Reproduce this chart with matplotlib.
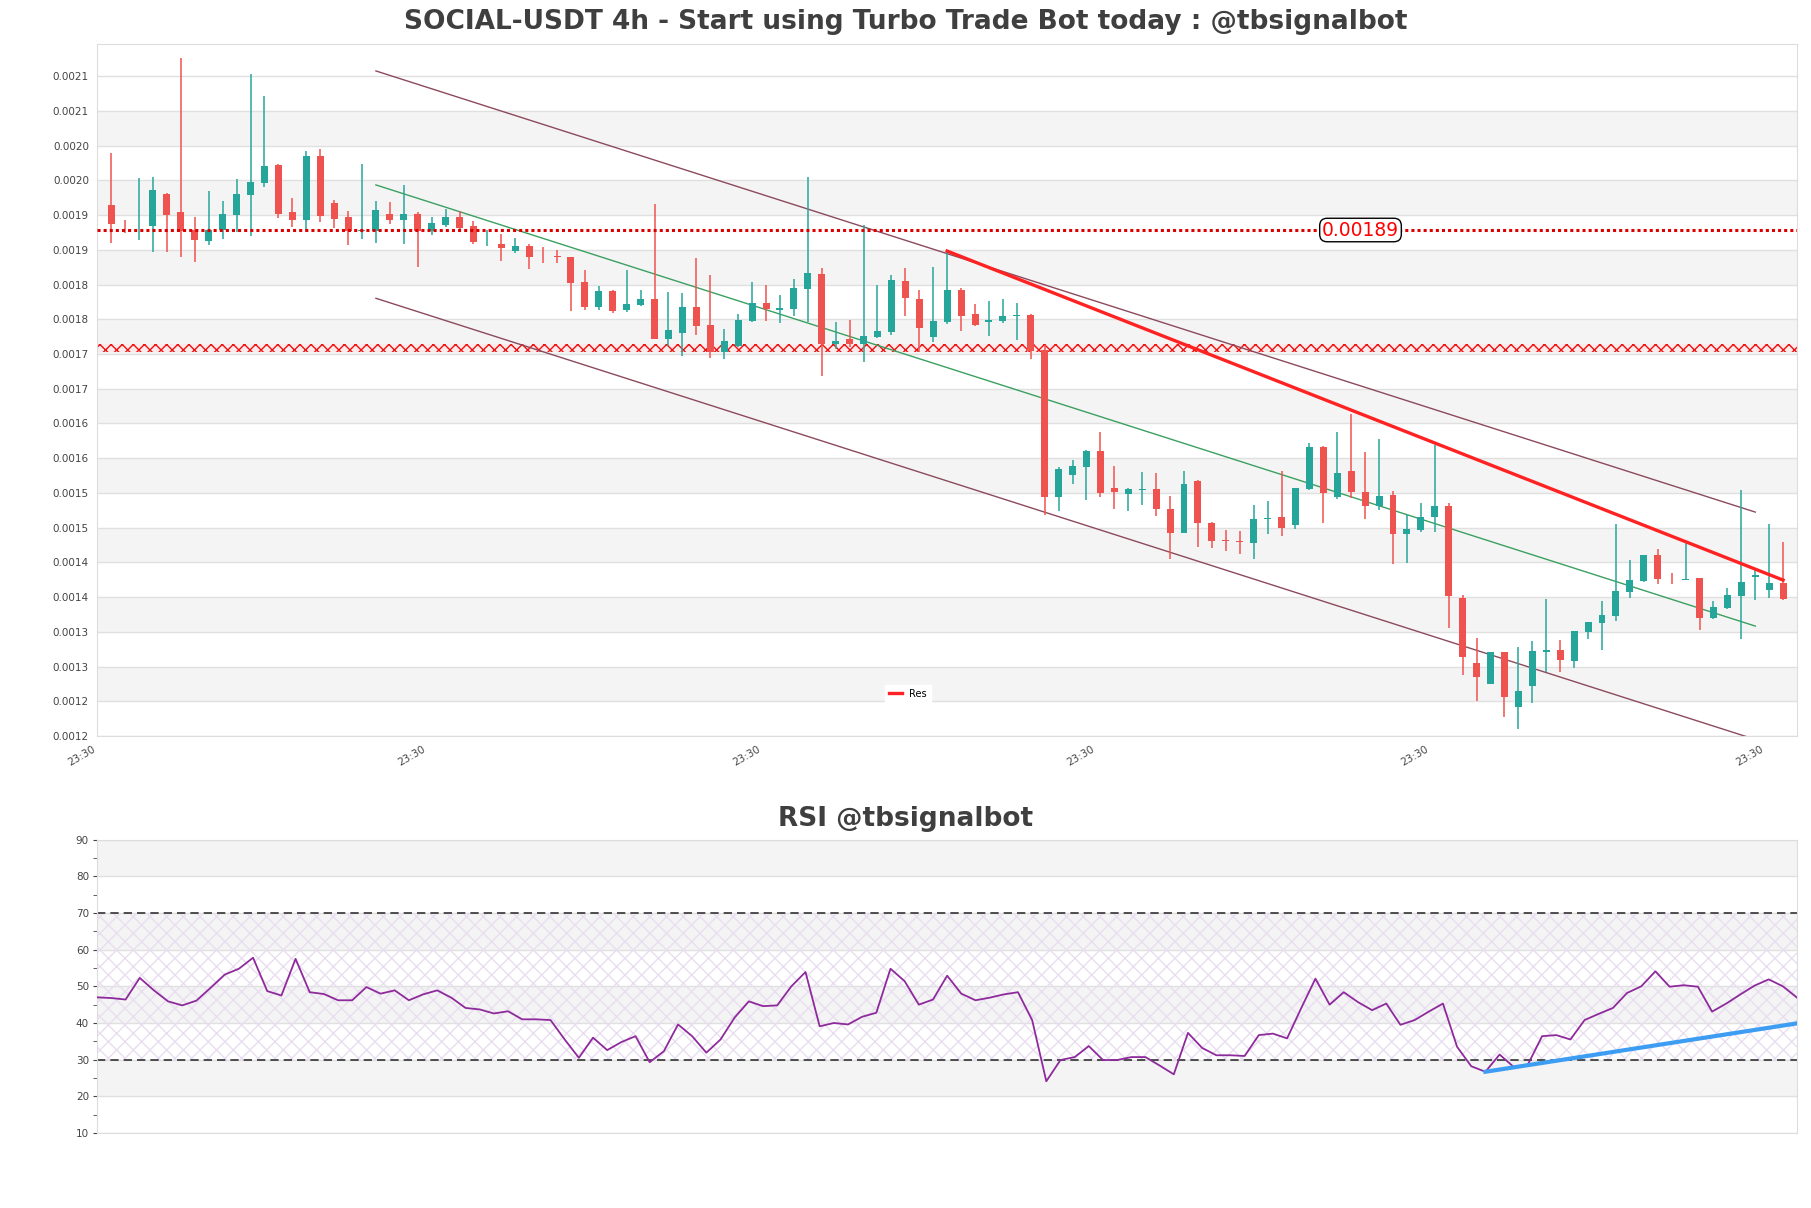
import matplotlib
matplotlib.use("Agg")
import matplotlib.pyplot as plt
import numpy as np
from matplotlib.ticker import FormatStrFormatter, MultipleLocator

# ---- candle data (4h) ----
opens = [
    0.0019258, 0.0018990, 0.0018952, 0.0018961, 0.0019417, 0.0019158, 0.0018899, 0.0018745, 0.0018894, 0.0019119,
    0.0019407, 0.0019580, 0.0019834, 0.0019158, 0.0019047, 0.0019964, 0.0019287, 0.0019086, 0.0018890, 0.0018889,
    0.0019129, 0.0019048, 0.0019130, 0.0018890, 0.0018971, 0.0019086, 0.0018957, 0.0018710, 0.0018693, 0.0018597,
    0.0018669, 0.0018526, 0.0018520, 0.0018510, 0.0018150, 0.0017791, 0.0018021, 0.0017747, 0.0017819, 0.0017906,
    0.0017335, 0.0017421, 0.0017791, 0.0017531, 0.0017138, 0.0017234, 0.0017589, 0.0017848, 0.0017752, 0.0017767,
    0.0018055, 0.0018266, 0.0017263, 0.0017335, 0.0017263, 0.0017359, 0.0017435, 0.0018165, 0.0017906, 0.0017354,
    0.0017579, 0.0018035, 0.0017694, 0.0017570, 0.0017594, 0.0017661, 0.0017680, 0.0017166, 0.0015060, 0.0015367,
    0.0015492, 0.0015717, 0.0015180, 0.0015093, 0.0015160, 0.0015165, 0.0014877, 0.0014541, 0.0015290, 0.0014685,
    0.0014430, 0.0014415, 0.0014397, 0.0014735, 0.0014762, 0.0014651, 0.0015165, 0.0015774, 0.0015059, 0.0015429,
    0.0015127, 0.0014925, 0.0015078, 0.0014527, 0.0014584, 0.0014771, 0.0014925, 0.0013600, 0.0012665, 0.0012367,
    0.0012818, 0.0012026, 0.0012338, 0.0012830, 0.0012847, 0.0012699, 0.0013116, 0.0013246, 0.0013342, 0.0013692,
    0.0013851, 0.0014220, 0.0013897, 0.0013865, 0.0013889, 0.0013318, 0.0013457, 0.0013635, 0.0013910, 0.0013711,
    0.0013812]
highs = [
    0.0020002, 0.0019042, 0.0019652, 0.0019662, 0.0019430, 0.0021370, 0.0019090, 0.0019460, 0.0019316, 0.0019633,
    0.0021144, 0.0020828, 0.0019849, 0.0019364, 0.0020036, 0.0020065, 0.0019330, 0.0019167, 0.0019849, 0.0019316,
    0.0019297, 0.0019547, 0.0019154, 0.0019082, 0.0019197, 0.0019173, 0.0019024, 0.0018899, 0.0018842, 0.0018784,
    0.0018698, 0.0018654, 0.0018611, 0.0018515, 0.0018323, 0.0018093, 0.0018035, 0.0018323, 0.0018035, 0.0019273,
    0.0018006, 0.0017990, 0.0018496, 0.0018251, 0.0017474, 0.0017685, 0.0018151, 0.0018107, 0.0017963, 0.0018194,
    0.0019662, 0.0018352, 0.0017570, 0.0017608, 0.0018971, 0.0018107, 0.0018251, 0.0018347, 0.0018035, 0.0018367,
    0.0018606, 0.0018064, 0.0017833, 0.0017877, 0.0017906, 0.0017848, 0.0017685, 0.0017243, 0.0015482, 0.0015588,
    0.0015732, 0.0015991, 0.0015501, 0.0015180, 0.0015415, 0.0015400, 0.0015065, 0.0015424, 0.0015300, 0.0014690,
    0.0014580, 0.0014570, 0.0014935, 0.0015000, 0.0015429, 0.0015190, 0.0015832, 0.0015789, 0.0015990, 0.0016254,
    0.0015702, 0.0015890, 0.0015146, 0.0014791, 0.0014968, 0.0015798, 0.0014963, 0.0013639, 0.0013020, 0.0012820,
    0.0012825, 0.0012899, 0.0012986, 0.0013586, 0.0012994, 0.0013130, 0.0013255, 0.0013558, 0.0014667, 0.0014148,
    0.0014225, 0.0014307, 0.0013956, 0.0014412, 0.0013895, 0.0013558, 0.0013745, 0.0015156, 0.0014014, 0.0014667,
    0.0014407]
lows = [
    0.0018716, 0.0018850, 0.0018755, 0.0018587, 0.0018587, 0.0018515, 0.0018433, 0.0018683, 0.0018774, 0.0018875,
    0.0018817, 0.0019513, 0.0019076, 0.0018947, 0.0018884, 0.0019014, 0.0018923, 0.0018687, 0.0018774, 0.0018716,
    0.0018990, 0.0018693, 0.0018371, 0.0018822, 0.0018938, 0.0018909, 0.0018693, 0.0018674, 0.0018453, 0.0018573,
    0.0018343, 0.0018419, 0.0018419, 0.0017738, 0.0017743, 0.0017747, 0.0017709, 0.0017723, 0.0017805, 0.0017330,
    0.0017234, 0.0017092, 0.0017392, 0.0017056, 0.0017037, 0.0017220, 0.0017570, 0.0017589, 0.0017565, 0.0017656,
    0.0017580, 0.0016792, 0.0017191, 0.0017220, 0.0016994, 0.0017340, 0.0017392, 0.0017666, 0.0017138, 0.0017282,
    0.0017551, 0.0017450, 0.0017520, 0.0017378, 0.0017565, 0.0017315, 0.0017046, 0.0014796, 0.0014858, 0.0015237,
    0.0015012, 0.0015060, 0.0014887, 0.0014858, 0.0014935, 0.0014786, 0.0014157, 0.0014532, 0.0014340, 0.0014325,
    0.0014282, 0.0014239, 0.0014167, 0.0014529, 0.0014498, 0.0014599, 0.0015160, 0.0014685, 0.0015030, 0.0015035,
    0.0014738, 0.0014863, 0.0014085, 0.0014104, 0.0014555, 0.0014555, 0.0013168, 0.0012492, 0.0012122, 0.0012360,
    0.0011892, 0.0011710, 0.0012084, 0.0012535, 0.0012540, 0.0012598, 0.0013016, 0.0012857, 0.0013275, 0.0013606,
    0.0013836, 0.0013807, 0.0013807, 0.0013860, 0.0013140, 0.0013294, 0.0013443, 0.0013016, 0.0013572, 0.0013606,
    0.0013572]
closes = [
    0.0018990, 0.0018985, 0.0018960, 0.0019474, 0.0019119, 0.0018889, 0.0018759, 0.0018899, 0.0019129, 0.0019417,
    0.0019590, 0.0019820, 0.0019134, 0.0019047, 0.0019964, 0.0019105, 0.0019062, 0.0018889, 0.0018905, 0.0019186,
    0.0019047, 0.0019130, 0.0018890, 0.0019000, 0.0019086, 0.0018933, 0.0018726, 0.0018714, 0.0018640, 0.0018669,
    0.0018510, 0.0018522, 0.0018514, 0.0018141, 0.0017791, 0.0018021, 0.0017733, 0.0017834, 0.0017906, 0.0017335,
    0.0017455, 0.0017791, 0.0017522, 0.0017138, 0.0017301, 0.0017604, 0.0017848, 0.0017757, 0.0017776, 0.0018064,
    0.0018280, 0.0017263, 0.0017301, 0.0017263, 0.0017373, 0.0017445, 0.0018179, 0.0017925, 0.0017488, 0.0017594,
    0.0018035, 0.0017666, 0.0017531, 0.0017603, 0.0017661, 0.0017680, 0.0017162, 0.0015060, 0.0015458, 0.0015496,
    0.0015717, 0.0015117, 0.0015132, 0.0015165, 0.0015165, 0.0014877, 0.0014541, 0.0015237, 0.0014685, 0.0014426,
    0.0014426, 0.0014411, 0.0014733, 0.0014748, 0.0014613, 0.0015184, 0.0015774, 0.0015117, 0.0015400, 0.0015131,
    0.0014930, 0.0015064, 0.0014527, 0.0014589, 0.0014762, 0.0014925, 0.0013634, 0.0012756, 0.0012468, 0.0012818,
    0.0012180, 0.0012261, 0.0012833, 0.0012847, 0.0012713, 0.0013126, 0.0013251, 0.0013356, 0.0013702, 0.0013860,
    0.0014220, 0.0013875, 0.0013890, 0.0013875, 0.0013318, 0.0013472, 0.0013644, 0.0013827, 0.0013927, 0.0013812,
    0.0013582]

# ---- RSI ----
rsi = [
    47.0, 46.8, 46.4, 52.3, 48.9, 45.9, 44.8, 46.1, 49.6, 53.2,
    54.8, 57.8, 48.7, 47.5, 57.5, 48.4, 47.9, 46.2, 46.2, 49.8,
    48.0, 48.9, 46.2, 47.8, 48.9, 46.9, 44.1, 43.7, 42.6, 43.2,
    41.0, 41.0, 40.8, 35.5, 30.5, 36.0, 32.6, 34.8, 36.4, 29.3,
    32.3, 39.6, 36.4, 31.9, 35.5, 41.5, 45.9, 44.6, 44.8, 50.0,
    53.9, 39.1, 40.0, 39.6, 41.7, 42.8, 54.8, 51.4, 45.0, 46.4,
    52.9, 48.0, 46.2, 46.9, 47.8, 48.4, 40.8, 24.1, 29.9, 30.7,
    33.7, 29.9, 29.9, 30.7, 30.7, 28.4, 26.0, 37.3, 33.2, 31.2,
    31.2, 31.0, 36.7, 37.1, 35.8, 44.1, 52.1, 45.0, 48.4, 45.7,
    43.5, 45.3, 39.5, 40.8, 43.1, 45.3, 33.5, 28.2, 26.7, 31.4,
    28.0, 28.7, 36.4, 36.7, 35.5, 40.8, 42.5, 44.1, 48.2, 50.0,
    54.1, 49.9, 50.3, 49.9, 43.1, 45.3, 47.8, 50.2, 51.9, 50.0, 46.9]
rsi_trend_x = [98, 120]
rsi_trend_y = [26.7, 39.9]

# ---- overlays ----
channel_x = [19, 118]
channel_upper = [0.0021190, 0.0014839]
channel_mid = [0.0019549, 0.0013198]
channel_lower = [0.0017917, 0.0011566]
res_x = [60, 120]
res_y = [0.0018597, 0.0013860]
level_dotted = 0.00189
level_dotted_label = "0.00189"
level_band = (0.0017140, 0.0017255)
label_x = 86.9

x_tick_pos = [-1, 22.7, 46.7, 70.7, 94.7, 118.7]
x_tick_labels = ["23:30"] * 6
y_tick_start = 0.0011615
y_tick_step = 0.00005
n_yticks = 20

title = "SOCIAL-USDT 4h - Start using Turbo Trade Bot today : @tbsignalbot"
rsi_title = "RSI @tbsignalbot"

GREEN = "#26a69a"
RED = "#ef5350"
STRIPE = "#f4f4f4"
GRID = "#e0e0e0"
TXT = "#444444"

fig = plt.figure(figsize=(18.11, 12.08), dpi=100)
ax = fig.add_axes([0.0537, 0.3907, 0.9386, 0.5730])
ax2 = fig.add_axes([0.0537, 0.0621, 0.9386, 0.2428])

# ---------------- price panel ----------------
x = np.arange(len(opens))
o = np.array(opens)
h = np.array(highs)
l = np.array(lows)
c = np.array(closes)
up = c >= o
cols = np.where(up, GREEN, RED)

yticks = y_tick_start + y_tick_step * np.arange(n_yticks)
ytop = yticks[-1] + 0.93 * y_tick_step
for k in range(1, n_yticks - 1, 2):
    ax.axhspan(yticks[k], yticks[k + 1], color=STRIPE, lw=0, zorder=0)
for yt in yticks:
    ax.axhline(yt, color=GRID, lw=1, zorder=0.5)

plt.rcParams["hatch.linewidth"] = 1.0
ax.axhspan(level_band[0], level_band[1], facecolor="#fdeaea", edgecolor="#ee1111",
           hatch="xxx", lw=0, zorder=1)

ax.plot(channel_x, channel_upper, color="#8c4a5c", lw=1, zorder=2)
ax.plot(channel_x, channel_lower, color="#8c4a5c", lw=1, zorder=2)
ax.plot(channel_x, channel_mid, color="#3aa060", lw=1, zorder=2)

ax.vlines(x, l, h, colors=cols, lw=1.1, zorder=3)
body = np.maximum(np.abs(c - o), 0.7e-6)
ax.bar(x, body, bottom=np.minimum(o, c), width=0.5, color=cols, lw=0, zorder=4)

ax.axhline(level_dotted, color="#dd0000", lw=2.2, ls=(0, (1, 1)), zorder=5)
ax.text(label_x, level_dotted, level_dotted_label, color="red", fontsize=13.5,
        ha="left", va="center", zorder=6,
        bbox=dict(boxstyle="round,pad=0.12,rounding_size=0.4", fc="white", ec="black", lw=1))

ax.plot(res_x, res_y, color="#ff2222", lw=2.4, zorder=5, label="Res")
leg = ax.legend(loc="center", bbox_to_anchor=(0.477, 0.061), fontsize=7,
                handlelength=1.3, frameon=True, framealpha=1, fancybox=False)
leg.get_frame().set_edgecolor("white")

ax.set_xlim(-1, 121)
ax.set_ylim(y_tick_start, ytop)
ax.set_yticks(yticks)
ax.yaxis.set_major_formatter(FormatStrFormatter("%.4f"))
ax.set_xticks(x_tick_pos)
ax.set_xticklabels(x_tick_labels, rotation=30, ha="right")
ax.tick_params(axis="both", length=0, labelsize=7.5, colors=TXT, pad=6)
for s in ax.spines.values():
    s.set_color("#dddddd")

# ---------------- RSI panel ----------------
for lo in (20, 40, 60, 80):
    ax2.axhspan(lo, lo + 10, color=STRIPE, lw=0, zorder=0)
for g in range(10, 91, 10):
    ax2.axhline(g, color=GRID, lw=1, zorder=0.5)
ax2.axhspan(30, 70, facecolor="none", edgecolor="#e8def0", hatch="xx", lw=0, zorder=1)
ax2.axhline(70, color="#333333", lw=1.2, ls=(0, (5, 3)), zorder=2)
ax2.axhline(30, color="#333333", lw=1.2, ls=(0, (5, 3)), zorder=2)
ax2.plot(np.arange(len(rsi)), rsi, color="#8e2a9c", lw=1.3, zorder=3)
ax2.plot(rsi_trend_x, rsi_trend_y, color="#3d9df3", lw=3, zorder=4)

ax2.set_xlim(0, len(rsi) - 1)
ax2.set_ylim(10, 90)
ax2.yaxis.set_major_locator(MultipleLocator(10))
ax2.yaxis.set_minor_locator(MultipleLocator(5))
ax2.set_xticks([])
ax2.tick_params(axis="y", which="both", length=3, labelsize=7.5, colors=TXT, pad=3)
for s in ax2.spines.values():
    s.set_color("#dddddd")

fig.text(0.5, 1 - 22 / 1208, title, ha="center", va="center", fontsize=19,
         fontweight="bold", color="#3f3f3f")
fig.text(0.5, 1 - 819 / 1208, rsi_title, ha="center", va="center", fontsize=19,
         fontweight="bold", color="#3f3f3f")

fig.savefig("out.png", dpi=100)
